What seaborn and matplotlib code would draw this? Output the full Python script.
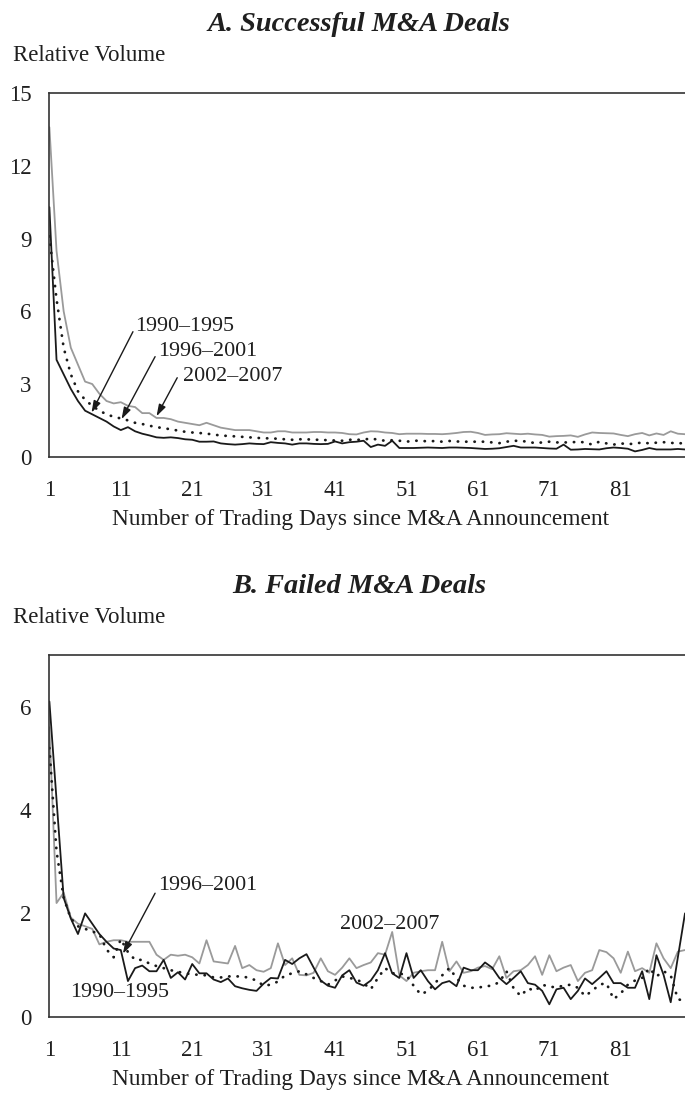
import numpy as np
import pandas as pd
import matplotlib
matplotlib.use("Agg")
import matplotlib.pyplot as plt
import seaborn as sns

# ---------------- data ----------------
days = list(range(1, 91))
x_ticks = [1, 11, 21, 31, 41, 51, 61, 71, 81]
x_tick_labels = ["1", "11", "21", "31", "41", "51", "61", "71", "81"]
y_ticks_a = [0, 3, 6, 9, 12, 15]
y_ticks_b = [0, 2, 4, 6]
periods = ["1990\u20131995", "1996\u20132001", "2002\u20132007"]

# Panel A: successful deals
succ_9095 = [10.3, 4.0, 3.4, 2.8, 2.3, 1.9, 1.75, 1.6, 1.45, 1.25,
             1.1, 1.22, 1.05, 0.95, 0.88, 0.8, 0.78, 0.8, 0.77, 0.72,
             0.7, 0.62, 0.62, 0.63, 0.55, 0.52, 0.5, 0.52, 0.55, 0.53,
             0.52, 0.6, 0.57, 0.55, 0.5, 0.55, 0.55, 0.53, 0.52, 0.53,
             0.63, 0.55, 0.6, 0.62, 0.66, 0.4, 0.5, 0.45, 0.66, 0.36,
             0.36, 0.36, 0.37, 0.38, 0.37, 0.36, 0.38, 0.38, 0.37, 0.36,
             0.34, 0.32, 0.33, 0.35, 0.4, 0.45, 0.38, 0.38, 0.38, 0.36,
             0.34, 0.33, 0.5, 0.29, 0.3, 0.32, 0.31, 0.3, 0.35, 0.38,
             0.36, 0.33, 0.22, 0.28, 0.36, 0.3, 0.3, 0.3, 0.32, 0.3]
succ_9601 = [9.1, 6.5, 4.5, 3.4, 2.7, 2.35, 2.1, 1.9, 1.75, 1.65,
             1.58, 1.5, 1.4, 1.35, 1.28, 1.22, 1.18, 1.13, 1.08, 1.03,
             1.0, 0.98, 0.95, 0.92, 0.87, 0.86, 0.84, 0.82, 0.8, 0.78,
             0.76, 0.76, 0.74, 0.72, 0.7, 0.72, 0.72, 0.7, 0.7, 0.68,
             0.67, 0.66, 0.7, 0.7, 0.7, 0.76, 0.7, 0.66, 0.68, 0.66,
             0.62, 0.66, 0.66, 0.63, 0.65, 0.62, 0.65, 0.63, 0.62, 0.62,
             0.62, 0.62, 0.59, 0.56, 0.62, 0.66, 0.65, 0.62, 0.56, 0.59,
             0.62, 0.59, 0.59, 0.59, 0.62, 0.59, 0.5, 0.62, 0.55, 0.5,
             0.55, 0.52, 0.54, 0.59, 0.55, 0.58, 0.6, 0.57, 0.56, 0.55]
succ_0207 = [13.6, 8.5, 6.0, 4.5, 3.8, 3.1, 3.0, 2.6, 2.3, 2.2,
             2.25, 2.1, 2.05, 1.8, 1.8, 1.6, 1.6, 1.55, 1.45, 1.4,
             1.35, 1.3, 1.4, 1.3, 1.2, 1.15, 1.1, 1.1, 1.1, 1.05,
             1.0, 1.0, 1.05, 1.05, 1.0, 1.0, 1.0, 1.02, 1.02, 1.0,
             1.0, 0.98, 0.93, 0.92, 1.0, 1.05, 1.04, 1.0, 0.98, 0.93,
             0.95, 0.95, 0.95, 0.94, 0.94, 0.93, 0.95, 0.98, 1.02, 1.03,
             0.98, 0.9, 0.92, 0.93, 0.97, 0.95, 0.93, 0.95, 0.92, 0.9,
             0.83, 0.85, 0.86, 0.88, 0.82, 0.92, 1.0, 0.98, 0.97, 0.96,
             0.9, 0.85, 0.93, 0.98, 0.88, 0.96, 0.9, 1.05, 0.95, 0.93]

# Panel B: failed deals
fail_9095 = [6.1, 4.2, 2.3, 1.9, 1.6, 2.0, 1.8, 1.6, 1.45, 1.32,
             1.29, 0.69, 0.94, 0.99, 0.88, 0.88, 1.1, 0.75, 0.86, 0.72,
             1.02, 0.84, 0.84, 0.72, 0.67, 0.74, 0.59, 0.55, 0.52, 0.5,
             0.64, 0.75, 0.74, 1.1, 1.02, 1.13, 1.21, 0.95, 0.7, 0.6,
             0.56, 0.8, 0.9, 0.66, 0.6, 0.7, 0.9, 1.23, 0.84, 0.75,
             1.23, 0.75, 0.9, 0.69, 0.53, 0.65, 0.69, 0.59, 0.95, 0.9,
             0.9, 1.05, 0.95, 0.75, 0.63, 0.75, 0.88, 0.65, 0.62, 0.5,
             0.24, 0.53, 0.56, 0.34, 0.5, 0.74, 0.63, 0.75, 0.88, 0.65,
             0.65, 0.56, 0.56, 0.88, 0.34, 1.19, 0.81, 0.28, 1.15, 2.0]
fail_9601 = [5.2, 3.2, 2.3, 1.9, 1.75, 1.7, 1.65, 1.6, 1.3, 1.15,
             1.5, 1.25, 1.1, 1.1, 1.03, 0.98, 0.94, 0.9, 0.87, 0.84,
             0.82, 0.81, 0.8, 0.76, 0.76, 0.78, 0.78, 0.78, 0.75, 0.7,
             0.6, 0.62, 0.68, 0.8, 0.84, 0.88, 0.82, 0.75, 0.69, 0.62,
             0.7, 0.78, 0.75, 0.72, 0.65, 0.53, 0.75, 0.94, 0.84, 0.84,
             0.8, 0.6, 0.43, 0.5, 0.65, 0.8, 0.94, 0.75, 0.6, 0.56,
             0.56, 0.59, 0.6, 0.67, 0.88, 0.55, 0.4, 0.55, 0.5, 0.62,
             0.58, 0.57, 0.6, 0.62, 0.56, 0.4, 0.5, 0.62, 0.65, 0.34,
             0.45, 0.62, 0.7, 0.75, 0.94, 0.78, 0.88, 0.8, 0.34, 0.3]
fail_0207 = [5.6, 2.2, 2.4, 1.92, 1.8, 1.75, 1.7, 1.4, 1.45, 1.48,
             1.48, 1.45, 1.45, 1.45, 1.45, 1.2, 1.1, 1.2, 1.18, 1.2,
             1.15, 1.03, 1.48, 1.07, 1.05, 1.03, 1.37, 0.94, 1.0, 0.9,
             0.87, 0.94, 1.42, 1.0, 1.13, 0.81, 0.8, 0.85, 1.13, 0.88,
             0.81, 0.95, 1.13, 0.94, 1.0, 1.05, 1.23, 1.2, 1.64, 0.8,
             0.69, 0.85, 0.88, 0.9, 0.9, 1.45, 0.88, 1.07, 0.85, 0.88,
             0.95, 0.98, 0.92, 1.17, 0.75, 0.88, 0.9, 1.0, 1.17, 0.81,
             1.19, 0.88, 0.95, 1.0, 0.69, 0.85, 0.9, 1.29, 1.25, 1.13,
             0.85, 1.26, 0.88, 0.94, 0.85, 1.42, 1.13, 0.94, 1.26, 1.29]

# ---------------- style ----------------
sns.set_style("white")
plt.rcParams["font.family"] = ["Liberation Serif", "DejaVu Serif"]

TXT = "#1f1f1f"
BLACK = "#1a1a1a"
GRAY = "#9a9a9a"
DOT = (0, (0.1, 2.9))

fig = plt.figure(figsize=(6.85, 10.95), dpi=100)
axA = fig.add_axes([0.0721, 0.5829, 0.9279, 0.3319])
axB = fig.add_axes([0.0721, 0.0715, 0.9279, 0.3303])


def draw(ax, s9095, s9601, s0207):
    sns.lineplot(x=days, y=s0207, ax=ax, color=GRAY, lw=1.3)
    sns.lineplot(x=days, y=s9601, ax=ax, color=BLACK, lw=2.0,
                 linestyle=DOT, dash_capstyle="round")
    sns.lineplot(x=days, y=s9095, ax=ax, color=BLACK, lw=1.3)


def style(ax, yticks, ylim, title):
    ax.set_xlim(1, 90)
    ax.set_ylim(*ylim)
    ax.set_xticks(x_ticks)
    ax.set_xticklabels(x_tick_labels)
    ax.set_yticks(yticks)
    ax.set_yticklabels([str(t) for t in yticks])
    ax.spines["right"].set_visible(False)
    for s in ["left", "top", "bottom"]:
        ax.spines[s].set_color("#333333")
        ax.spines[s].set_linewidth(1.2)
    ax.tick_params(axis="x", direction="in", length=5.5, width=1.0,
                   color="#333333", pad=16.5, labelsize=16.5, labelcolor=TXT)
    ax.tick_params(axis="y", direction="in", length=4.5, width=1.0,
                   color="#333333", pad=13, labelsize=16.5, labelcolor=TXT)
    ax.set_xlabel("Number of Trading Days since M&A Announcement",
                  fontsize=16.8, color=TXT)
    ax.xaxis.set_label_coords(0.49, -0.173)
    ax.xaxis.label.set_va("center")
    ax.set_ylabel("")
    ax.text(-0.0573, 1.103, "Relative Volume", transform=ax.transAxes,
            ha="left", va="center", fontsize=16.5, color=TXT)
    ax.text(0.487, 1.19, title, transform=ax.transAxes, ha="center",
            va="center", fontsize=20.4, fontweight="bold", fontstyle="italic",
            color=TXT)


draw(axA, succ_9095, succ_9601, succ_0207)
style(axA, y_ticks_a, (0, 15), "A. Successful M&A Deals")
draw(axB, fail_9095, fail_9601, fail_0207)
style(axB, y_ticks_b, (0, 7), "B. Failed M&A Deals")

arrow = dict(arrowstyle="-|>,head_length=0.7,head_width=0.22",
             color=BLACK, lw=1.0, shrinkA=0, shrinkB=0)
FS = 15.8

# Panel A labels with arrows
axA.text(13.0, 5.37, periods[0], fontsize=FS, color=TXT, ha="left", va="center")
axA.annotate("", xy=(6.9, 1.82), xytext=(12.7, 5.16), arrowprops=arrow)
axA.text(16.2, 4.33, periods[1], fontsize=FS, color=TXT, ha="left", va="center")
axA.annotate("", xy=(11.1, 1.55), xytext=(15.8, 4.13), arrowprops=arrow)
axA.text(19.7, 3.30, periods[2], fontsize=FS, color=TXT, ha="left", va="center")
axA.annotate("", xy=(16.0, 1.67), xytext=(18.9, 3.26), arrowprops=arrow)

# Panel B labels
axB.text(16.2, 2.53, periods[1], fontsize=FS, color=TXT, ha="left", va="center")
axB.annotate("", xy=(11.3, 1.22), xytext=(15.8, 2.39), arrowprops=arrow)
axB.text(41.7, 1.79, periods[2], fontsize=FS, color=TXT, ha="left", va="center")
axB.text(3.9, 0.46, periods[0], fontsize=FS, color=TXT, ha="left", va="center")

fig.savefig("out.png", dpi=100, facecolor="white")
